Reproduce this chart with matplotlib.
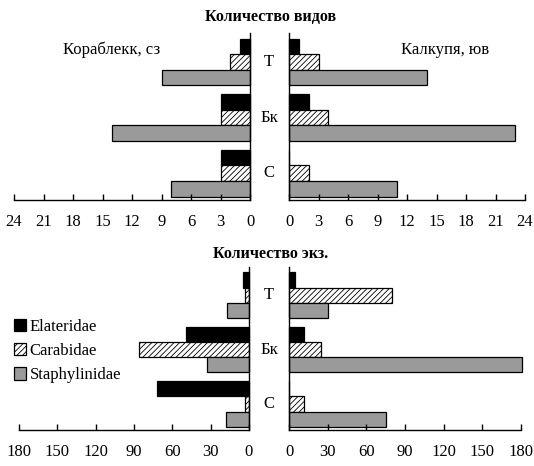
import numpy as np
import matplotlib
matplotlib.use('Agg')
import matplotlib.pyplot as plt
import matplotlib.patches as mpatches
from matplotlib.transforms import blended_transform_factory

plt.rcParams['font.family'] = ['Liberation Serif', 'DejaVu Serif']
plt.rcParams['hatch.linewidth'] = 0.6

categories = ['Т', 'Бк', 'С']
families = ['Elateridae', 'Carabidae', 'Staphylinidae']

# Количество видов
species_left = {'Elateridae': [1, 3, 3], 'Carabidae': [2, 3, 3], 'Staphylinidae': [9, 14, 8]}
species_right = {'Elateridae': [1, 2, 0], 'Carabidae': [3, 4, 2], 'Staphylinidae': [14, 23, 11]}

# Количество экз.
ind_left = {'Elateridae': [5, 49, 72], 'Carabidae': [3, 86, 3], 'Staphylinidae': [17, 33, 18]}
ind_right = {'Elateridae': [5, 12, 0], 'Carabidae': [80, 25, 12], 'Staphylinidae': [30, 181, 75]}

species_ticks = [0, 3, 6, 9, 12, 15, 18, 21, 24]
ind_ticks = [0, 30, 60, 90, 120, 150, 180]

styles = {
    'Elateridae': dict(facecolor='black', edgecolor='black'),
    'Carabidae': dict(facecolor='white', edgecolor='black', hatch='//////'),
    'Staphylinidae': dict(facecolor='#9a9a9a', edgecolor='black'),
}

fig = plt.figure(figsize=(5.34, 4.66), dpi=100)


def draw_half(ax, data, ticks, side):
    y = np.arange(len(categories))
    h = 0.28
    for i, fam in enumerate(families):
        ax.barh(y + (i - 1) * h, data[fam], height=h, linewidth=0.9,
                clip_on=False, **styles[fam])
    ax.set_ylim(2.48, -0.52)
    ax.set_xlim(ticks[0], ticks[-1])
    ax.set_xticks(ticks)
    ax.set_yticks([])
    ax.tick_params(axis='x', direction='in', length=4, width=1, pad=10, labelsize=12)
    ax.spines['top'].set_visible(False)
    if side == 'left':
        ax.invert_xaxis()
        ax.spines['left'].set_visible(False)
    else:
        ax.spines['right'].set_visible(False)
    for s in ax.spines.values():
        s.set_linewidth(1)


ax1 = fig.add_axes([14 / 534, 1 - 200 / 466, 236 / 534, 167 / 466])
ax2 = fig.add_axes([289 / 534, 1 - 200 / 466, 236 / 534, 167 / 466])
ax3 = fig.add_axes([19 / 534, 1 - 430 / 466, 230 / 534, 163 / 466])
ax4 = fig.add_axes([289 / 534, 1 - 430 / 466, 232 / 534, 163 / 466])

draw_half(ax1, species_left, species_ticks, 'left')
draw_half(ax2, species_right, species_ticks, 'right')
draw_half(ax3, ind_left, ind_ticks, 'left')
draw_half(ax4, ind_right, ind_ticks, 'right')

# category labels between halves
for ax in (ax2, ax4):
    tr = blended_transform_factory(fig.transFigure, ax.transData)
    for i, c in enumerate(categories):
        ax.text(269 / 534, i, c, transform=tr, ha='center', va='center', fontsize=12)

fig.text(271 / 534, 1 - 17 / 466, 'Количество видов', ha='center', va='center',
         fontsize=11.5, fontweight='bold')
fig.text(271 / 534, 1 - 254 / 466, 'Количество экз.', ha='center', va='center',
         fontsize=11.5, fontweight='bold')
fig.text(112 / 534, 1 - 50 / 466, 'Кораблекк, сз', ha='center', va='center', fontsize=12)
fig.text(445 / 534, 1 - 50 / 466, 'Калкупя, юв', ha='center', va='center', fontsize=12)

handles = [mpatches.Patch(label=f, linewidth=0.9, **styles[f]) for f in families]
fig.legend(handles=handles, loc='upper left', bbox_to_anchor=(7 / 534, 1 - 312 / 466),
           frameon=False, fontsize=12, handlelength=0.75, handleheight=0.75,
           handletextpad=0.2, labelspacing=0.5, borderaxespad=0)

fig.savefig('out.png', dpi=100)
